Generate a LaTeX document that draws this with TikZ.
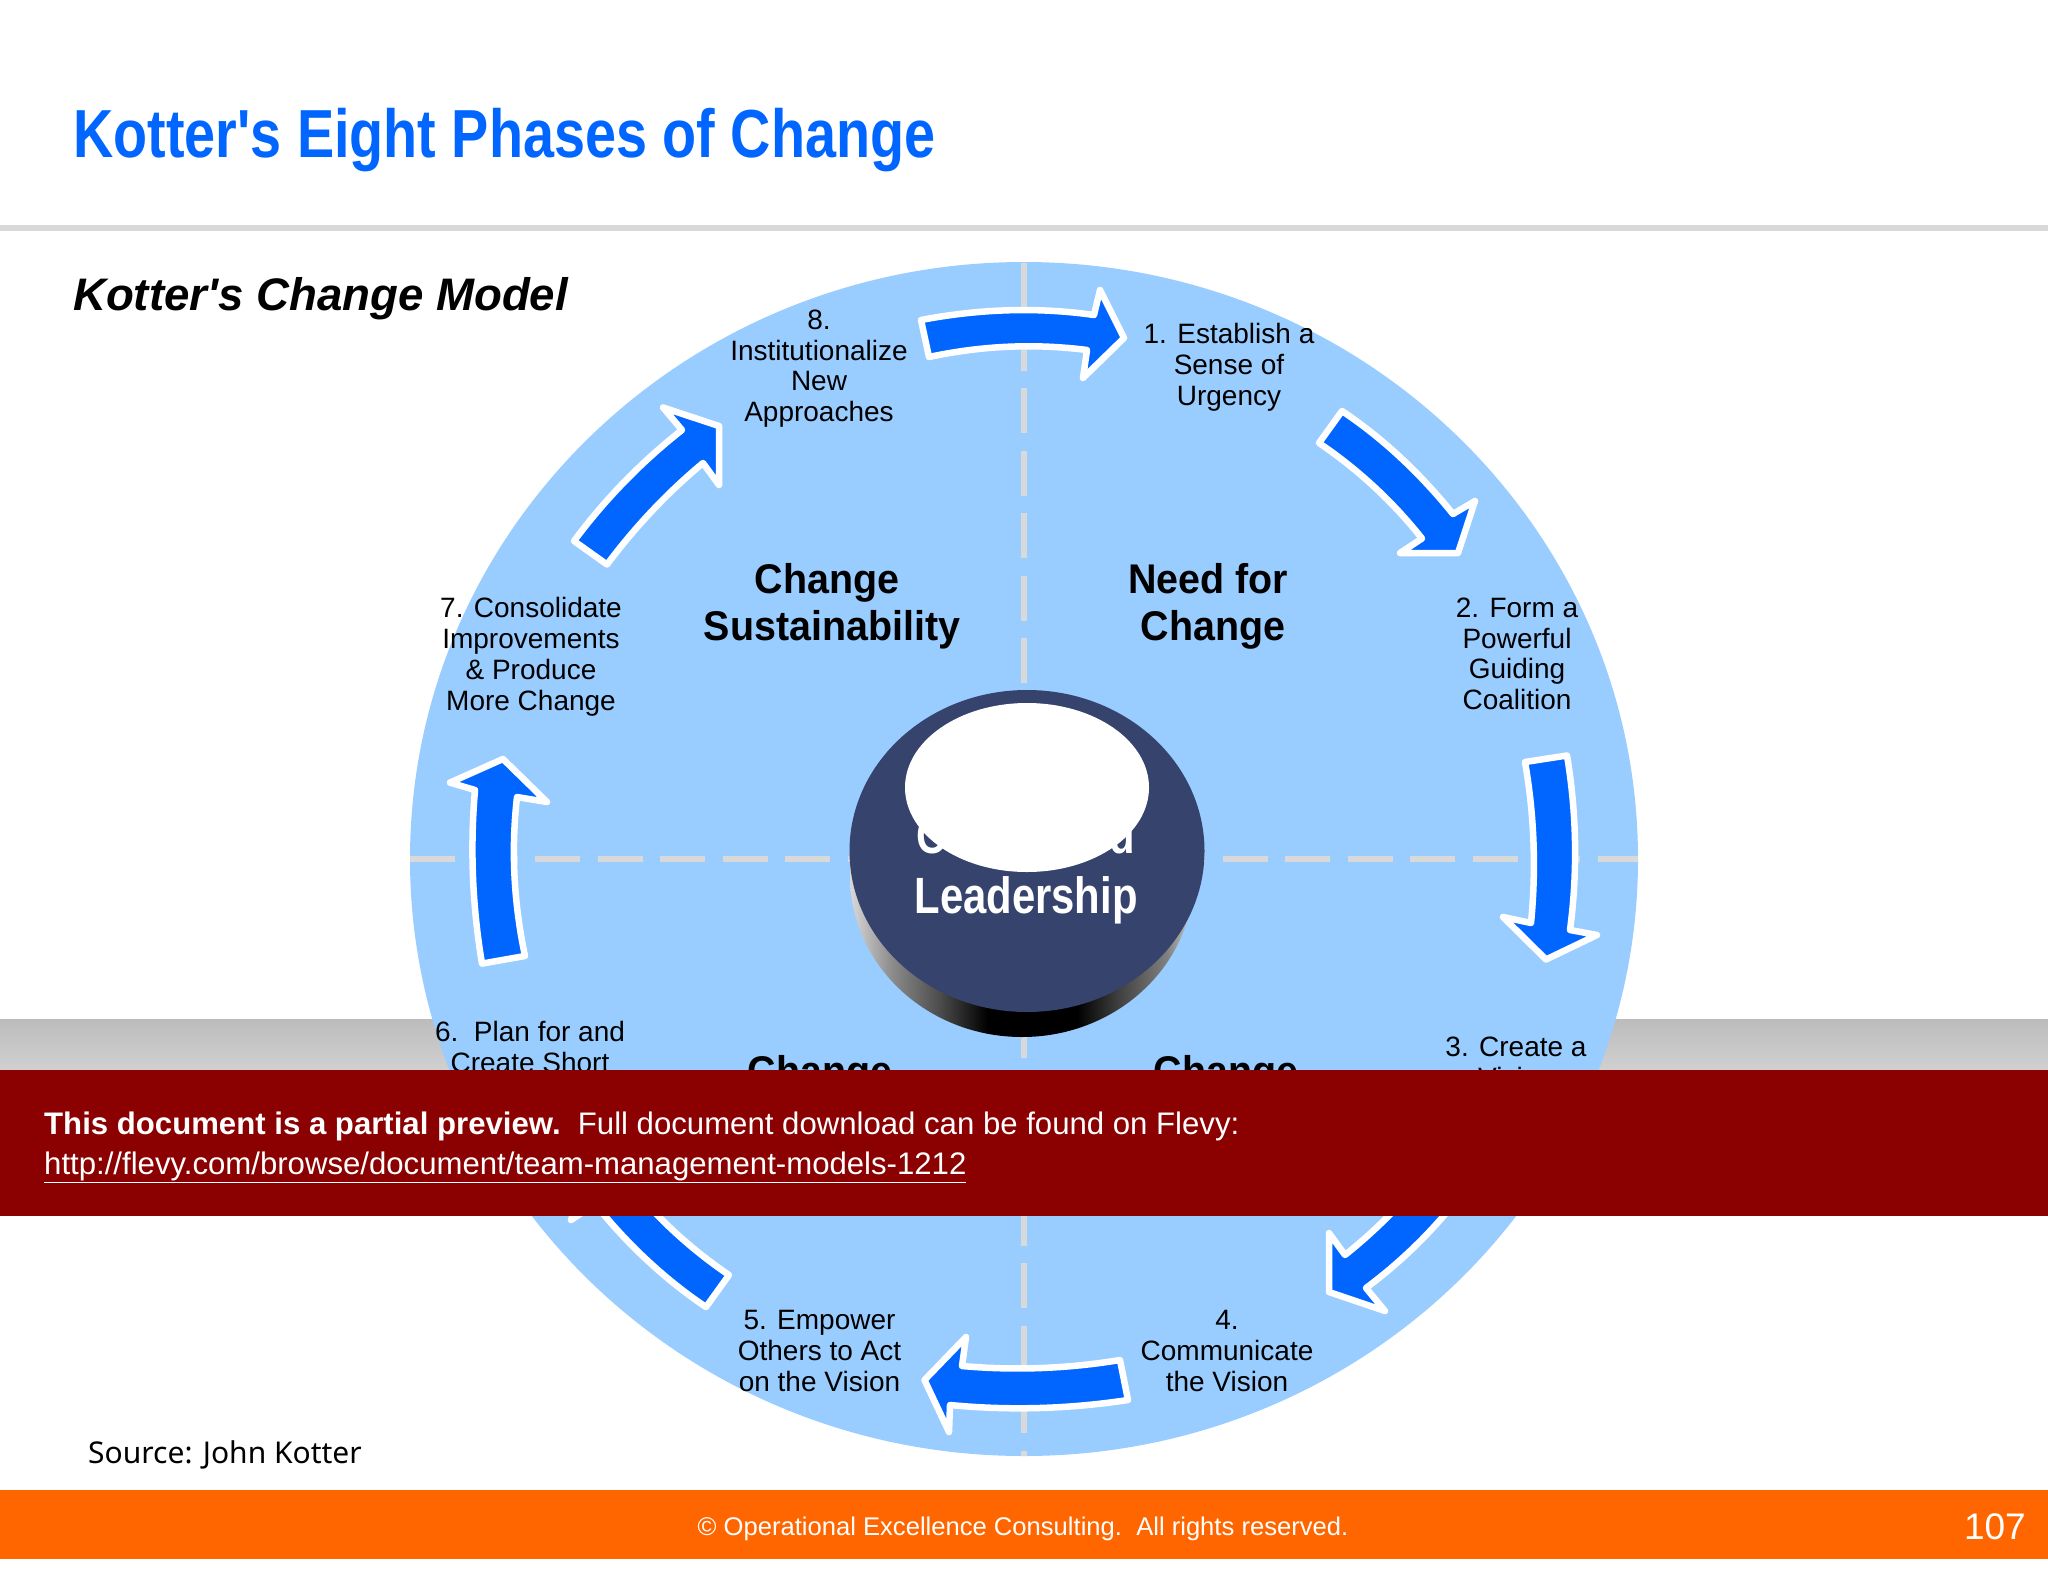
\documentclass[tikz,border=0pt]{standalone}
\usepackage{fontspec}
\usetikzlibrary{shapes.geometric}
\setmainfont{Liberation Sans}
\newfontfamily\plainarial[Ligatures=NoCommon]{Liberation Sans}
\newfontfamily\narrowarial[FakeStretch=0.82,Ligatures=NoCommon]{Liberation Sans}
\newfontfamily\quadarial[FakeStretch=0.95,Ligatures=NoCommon]{Liberation Sans}
\newfontfamily\sourcefont{Noto Sans}
\definecolor{wheelblue}{HTML}{99CCFF}
\definecolor{arrowblue}{HTML}{0066FF}
\definecolor{titleblue}{HTML}{0066FF}
\definecolor{rulegray}{HTML}{D9D9D9}
\definecolor{discblue}{HTML}{36436C}
\definecolor{bandred}{HTML}{8B0000}
\definecolor{footorange}{HTML}{FF6600}
\definecolor{stripetop}{HTML}{BDBCBD}
\definecolor{stripebot}{HTML}{D2D2D2}
\pgfdeclarehorizontalshading{discside}{100bp}{
  color(0bp)=(white!85!black); color(25bp)=(white!85!black); color(31bp)=(white!55!black); color(38bp)=(black!70!white);
  color(45bp)=(black); color(58bp)=(black); color(64bp)=(black!75!white); color(71bp)=(white!50!black); color(75bp)=(white!80!black); color(100bp)=(white!80!black)}
\tikzset{
  lab/.style={align=center,inner sep=0pt,anchor=base,text=black,font=\plainarial\fontsize{28}{30.7}\selectfont},
  quad/.style={inner sep=0pt,anchor=base,text=black,font=\quadarial\bfseries\fontsize{41.5}{47}\selectfont},
  blockarrow/.style={fill=arrowblue,draw=white,line width=6.5pt,line join=round},
  dashline/.style={draw=rulegray,line width=6pt,dash pattern=on 45pt off 17.5pt},
  solidell/.style={ellipse,inner sep=0pt,outer sep=0pt,draw=none}
}
\begin{document}
\begin{tikzpicture}[x=1pt,y=-1pt]
\useasboundingbox (0,0) rectangle (2048,1582);
\fill[white] (0,0) rectangle (2048,1582);
% header
\node[inner sep=0pt,anchor=base west,text=titleblue,font=\narrowarial\bfseries\fontsize{68}{70}\selectfont] (title) at (73,157) {Kotter's Eight Phases of Change};
\fill[rulegray] (0,225) rectangle (2048,231);
\node[inner sep=0pt,anchor=base west,text=black,font=\plainarial\bfseries\itshape\fontsize{45.6}{50}\selectfont] (subtitle) at (73,310) {Kotter's Change Model};
% grey stripe
\shade[top color=stripetop,bottom color=stripebot] (0,1019) rectangle (2048,1075);
% wheel
\node[solidell,fill=wheelblue,minimum width=1228pt,minimum height=1194pt] (wheel) at (1024,859) {};
\path[dashline] (1024,263) -- (1024,1456);
\path[dashline] (410,859) -- (1638,859);
% disc
\node[solidell,shading=discside,minimum width=344pt,minimum height=322pt] (discside) at (1022,876) {};
\node[solidell,fill=discblue,minimum width=355pt,minimum height=322pt] (disc) at (1027,851) {};
\node[inner sep=0pt,anchor=base,text=white,font=\narrowarial\bfseries\fontsize{51}{55}\selectfont] (committed) at (1026,853) {Committed};
\node[inner sep=0pt,anchor=base,text=white,font=\narrowarial\bfseries\fontsize{51}{55}\selectfont] (leadership) at (1026,913) {Leadership};
\node[solidell,fill=white,minimum width=244pt,minimum height=169pt] (glare) at (1027,787.5) {};
% arrows
\path[blockarrow] (921,320) .. controls (980.3,308.7) and (1038,307) .. (1094,315) -- (1100,290) -- (1124,338) -- (1083,378) -- (1087,350) .. controls (1034.3,343.3) and (981.7,345.7) .. (929,357) -- cycle;
\path[blockarrow] (1342,411) .. controls (1382.3,438) and (1419.3,472.3) .. (1453,514) -- (1475,501) -- (1458,553) -- (1400,553) -- (1422,538.5) .. controls (1392.7,501.5) and (1358.3,469.7) .. (1319,443) -- cycle;
\path[blockarrow] (1525,762) -- (1567,755.5) .. controls (1576.7,813.8) and (1577.7,872) .. (1570,930) -- (1597,935) -- (1546,959.5) -- (1503,917) -- (1531,923) .. controls (1536.3,869) and (1534.3,815.3) .. (1525,762) -- cycle;
\path[blockarrow] (1474,1177) .. controls (1444,1219.7) and (1408,1256.7) .. (1366,1288) -- (1385,1311) -- (1329,1292) -- (1329,1233) -- (1345,1255) .. controls (1381.7,1225.7) and (1413.7,1192) .. (1441,1153.5) -- cycle;
\path[blockarrow] (1120,1360) .. controls (1067.3,1368.7) and (1014.7,1370.7) .. (962,1366) -- (966,1337) -- (924.5,1380) -- (949,1432) -- (950,1405) .. controls (1009.3,1410.7) and (1068.7,1409) .. (1128,1400) -- cycle;
\path[blockarrow] (706,1307) .. controls (665.7,1280) and (628.7,1245.7) .. (595,1204) -- (571,1220) -- (590,1165) -- (648,1165) -- (626,1179.5) .. controls (655.3,1216.5) and (689.7,1248.3) .. (729,1275) -- cycle;
\path[blockarrow] (482,963.6) .. controls (472.3,905.9) and (470,848) .. (475,790) -- (450,782.6) -- (503,759) -- (547,802) -- (517,797) .. controls (511,849.7) and (513.7,902.7) .. (525,956) -- cycle;
\path[blockarrow] (574,541) .. controls (605.3,499) and (641.3,462) .. (682,430) -- (663,407.5) -- (719,426) -- (719,485) -- (703,463) .. controls (667,493) and (635,527) .. (607,564.5) -- cycle;
% phase labels (anchor is base of the last line)
\node[lab] (p1) at (1229,405) {1. Establish a\\Sense of\\Urgency};
\node[lab] (p2) at (1517,709.5) {2. Form a\\Powerful\\Guiding\\Coalition};
\node[lab] (p3) at (1516,1087) {3. Create a\\Vision};
\node[lab] (p4) at (1227,1391) {4.\\Communicate\\the Vision};
\node[lab] (p5) at (819.5,1391) {5. Empower\\Others to Act\\on the Vision};
\node[lab] (p6) at (530,1072) {6.\ \ Plan for and\\Create Short};
\node[lab] (p7) at (531,710) {7. Consolidate\\Improvements\\\& Produce\\More Change};
\node[lab] (p8) at (819,421.5) {8.\\Institutionalize\\New\\Approaches};
% quadrant labels
\node[quad] (q1a) at (1208,593) {Need for};
\node[quad] (q1b) at (1213,640) {Change};
\node[quad] (q2a) at (827,593) {Change};
\node[quad] (q2b) at (832,640) {Sustainability};
\node[quad] (q3) at (820,1085) {Change};
\node[quad] (q4) at (1226,1085) {Change};
% source
\node[inner sep=0pt,anchor=base west,text=black,font=\sourcefont\fontsize{30}{32}\selectfont] (source) at (88,1463) {Source: John Kotter};
% red band
\fill[bandred] (0,1070) rectangle (2048,1216);
\node[inner sep=0pt,anchor=base west,text=white,font=\plainarial\fontsize{31.15}{35}\selectfont] (notice) at (44,1134) {\textbf{This document is a partial preview.}\ \ Full document download can be found on Flevy:};
\node[inner sep=0pt,anchor=base west,text=white,font=\plainarial\fontsize{31.15}{35}\selectfont] (link) at (44,1174) {\underline{http://flevy.com/browse/document/team-management-models-1212}};
% footer
\fill[footorange] (0,1490) rectangle (2048,1559);
\node[inner sep=0pt,anchor=base,text=white,font=\plainarial\fontsize{25.6}{30}\selectfont] (copy) at (1023,1535) {© Operational Excellence Consulting.\ \ All rights reserved.};
\node[inner sep=0pt,anchor=base east,text=white,font=\plainarial\fontsize{37}{40}\selectfont] (pageno) at (2026,1539) {107};
\end{tikzpicture}
\end{document}
